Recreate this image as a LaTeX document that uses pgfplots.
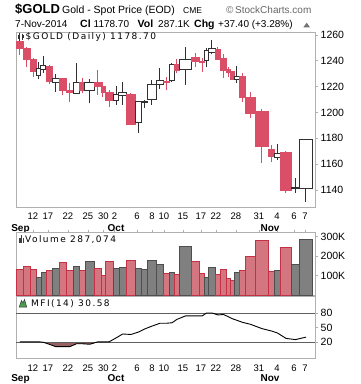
\documentclass[border=0pt]{standalone}
\usepackage{fontspec}
\setmainfont{Liberation Sans}
\newfontfamily\vfont[LetterSpace=16]{DejaVu Sans}
\usepackage{pgfplots}
\usepackage{pgfplotstable}
\pgfplotsset{compat=1.18}
\definecolor{cred}{RGB}{218,79,103}
\definecolor{vred}{RGB}{212,118,128}
\definecolor{vredline}{RGB}{196,48,68}
\definecolor{vgray}{RGB}{128,128,128}
\definecolor{vgrayline}{RGB}{78,78,78}
\definecolor{hollow}{RGB}{48,48,48}
\definecolor{frame}{RGB}{176,176,176}
\definecolor{mfifill}{RGB}{150,96,96}
\definecolor{lblgray}{RGB}{95,95,95}
\newcommand\fs[1]{\fontsize{#1}{#1}\selectfont}

% xl xr : bar extent (CandleVolume width), o h l c : price, v : volume (K), t : 0 down / 1 up
\pgfplotstableread{
xl xr o h l c v t
16.7 23.0 1254.8 1255.8 1244.5 1249.7 132 0
23.0 30.7 1249.7 1251.0 1235.5 1241.2 148 0
30.7 36.7 1241.2 1242.0 1227.7 1231.6 132 0
36.7 41.0 1228.5 1239.3 1226.0 1234.2 91 1
41.0 46.0 1233.4 1243.7 1230.4 1236.0 117 1
46.0 52.3 1236.0 1236.5 1222.0 1223.8 127 0
52.3 59.3 1223.4 1229.6 1216.1 1226.5 137 1
59.3 66.3 1226.0 1226.5 1213.5 1216.9 168 0
66.3 73.3 1216.9 1222.6 1208.4 1215.3 127 0
73.3 79.7 1214.9 1238.1 1214.5 1223.4 148 1
79.7 85.0 1223.4 1227.0 1214.9 1216.9 127 0
85.0 94.7 1216.9 1225.7 1207.1 1223.1 174 1
94.7 101.0 1223.1 1232.9 1213.5 1220.0 137 0
101.0 105.0 1220.0 1223.8 1212.2 1215.3 101 0
105.0 113.3 1215.9 1217.4 1204.5 1209.1 174 0
113.3 119.0 1209.1 1220.5 1205.8 1214.1 137 1
119.0 126.3 1213.3 1223.8 1205.8 1215.3 143 1
126.3 135.7 1214.3 1214.9 1190.3 1191.1 179 0
135.7 141.3 1192.4 1208.6 1183.9 1208.4 137 1
141.3 147.3 1208.0 1209.7 1203.3 1208.6 132 1
147.3 156.3 1210.2 1225.2 1205.8 1221.8 179 1
156.3 163.7 1221.3 1234.2 1218.0 1224.4 158 1
163.7 169.3 1224.4 1227.7 1217.4 1223.1 112 0
169.3 174.7 1224.6 1238.6 1223.8 1237.5 117 1
174.7 179.3 1237.5 1241.2 1230.4 1232.4 107 0
179.3 191.7 1233.4 1251.0 1221.3 1241.2 251 1
191.7 199.7 1242.7 1246.3 1235.5 1239.3 174 0
199.7 204.7 1239.9 1242.0 1231.6 1238.9 112 0
204.7 208.3 1239.9 1249.7 1235.5 1247.8 91 1
208.3 215.7 1246.6 1256.1 1245.3 1249.7 143 1
215.7 220.3 1249.2 1251.0 1240.6 1241.2 107 0
220.3 226.7 1242.0 1245.3 1226.5 1232.4 132 0
226.7 230.7 1233.4 1235.5 1227.7 1230.8 86 0
230.7 234.7 1231.6 1232.4 1225.0 1225.7 76 0
234.7 239.3 1225.7 1236.0 1222.6 1227.7 117 1
239.3 245.3 1228.3 1230.4 1208.4 1211.5 127 0
245.3 255.3 1211.8 1216.1 1195.5 1199.4 199 0
255.3 268.7 1200.6 1202.5 1160.7 1173.5 282 0
268.7 274.7 1171.5 1174.8 1161.4 1166.3 122 0
274.7 280.3 1165.3 1175.6 1163.2 1168.4 127 1
280.3 291.7 1168.9 1170.2 1137.5 1140.0 246 0
291.7 299.3 1141.0 1149.1 1137.5 1142.0 158 1
299.3 312.7 1141.3 1179.0 1131.0 1178.7 287 1
}\candles

\pgfplotstableread{
x m
19.85 21
26.85 21
33.7 21
38.85 21
43.5 20
49.15 16
55.8 11
62.8 11
69.8 11
76.5 17
82.35 17
89.85 16
97.85 21
103 21
109.15 21
116.15 29
122.65 37
131 36
138.5 41
144.3 47
151.8 53
160 59
166.5 59
172 60
177 67
185.5 74
195.7 74
202.2 74
206.5 80
212 80
218 76
223.5 77
228.7 72
232.7 68
237 65
242.3 61
250.3 57
262 48
271.7 43
277.5 39
286 28
295.5 25.5
306 30.58
}\mfi

\newcommand\getrow[1]{%
  \pgfplotstablegetelem{#1}{xl}\of\candles\let\cdXL\pgfplotsretval
  \pgfplotstablegetelem{#1}{xr}\of\candles\let\cdXR\pgfplotsretval
  \pgfplotstablegetelem{#1}{o}\of\candles\let\cdO\pgfplotsretval
  \pgfplotstablegetelem{#1}{h}\of\candles\let\cdH\pgfplotsretval
  \pgfplotstablegetelem{#1}{l}\of\candles\let\cdL\pgfplotsretval
  \pgfplotstablegetelem{#1}{c}\of\candles\let\cdC\pgfplotsretval
  \pgfplotstablegetelem{#1}{v}\of\candles\let\cdV\pgfplotsretval
  \pgfplotstablegetelem{#1}{t}\of\candles\let\cdT\pgfplotsretval
  \pgfmathsetmacro\cdXM{(\cdXL+\cdXR)/2}%
}

\pgfplotsset{
  panel/.style={scale only axis, width=299.5pt, xmin=16, xmax=315.5,
    axis line style={draw=frame, line width=0.9pt},
    tick align=outside, ytick pos=right, yticklabel pos=right,
    major tick length=3pt,
    ytick style={draw=frame, line width=0.8pt},
    yticklabel style={font=\fs{10.5}, inner sep=0pt, xshift=2pt, anchor=west},
    xticklabel style={font=\fs{9.5}, inner sep=0pt, anchor=north, yshift=-3pt},
    xtick={33,48,68,88,103.5,114.5,137,152,164,183,201,216,236,259,277,294,305},
  },
  wick0/.style={draw=cred, line width=1pt},
  wick1/.style={draw=hollow, line width=1pt},
  body0/.style={fill=cred, draw=cred, line width=0.8pt},
  body1/.style={fill=white, draw=hollow, line width=1pt},
  vbar0/.style={fill=vred, draw=vredline, line width=0.9pt},
  vbar1/.style={fill=vgray, draw=vgrayline, line width=0.9pt},
}

\begin{document}
\begin{tikzpicture}
\path[use as bounding box] (0,0) rectangle (360pt,-384pt);

% header
\node[anchor=base west, inner sep=0] at (15pt,-13.3pt) {\fs{13}\bfseries \$GOLD};
\node[anchor=base west, inner sep=0] at (62pt,-13.3pt) {\fs{10.5}Gold - Spot Price (EOD)};
\node[anchor=base west, inner sep=0] at (183pt,-13.3pt) {\fs{8.5}CME};
\node[anchor=base west, inner sep=0, text=black!60] at (226pt,-13.3pt) {\fs{10}\textcopyright\,StockCharts.com};
\node[anchor=base west, inner sep=0] at (15pt,-27.3pt) {\fs{10}7-Nov-2014};
\node[anchor=base west, inner sep=0] at (80pt,-27.3pt) {\fs{10.5}\bfseries Cl};
\node[anchor=base west, inner sep=0] at (93.5pt,-27.3pt) {\fs{10}1178.70};
\node[anchor=base west, inner sep=0] at (137.5pt,-27.3pt) {\fs{10.5}\bfseries Vol};
\node[anchor=base west, inner sep=0] at (158pt,-27.3pt) {\fs{10}287.1K};
\node[anchor=base west, inner sep=0] at (194pt,-27.3pt) {\fs{10.5}\bfseries Chg};
\node[anchor=base west, inner sep=0] at (218pt,-27.3pt) {\fs{10}+37.40 (+3.28\%)};
\fill[black!55] (303.3pt,-27.3pt) -- (310pt,-27.3pt) -- (306.7pt,-22.7pt) -- cycle;

% price panel
\begin{axis}[panel, at={(16pt,-32pt)}, anchor=north west, height=175pt,
  ymin=1126.8, ymax=1262.3,
  ytick={1140,1160,1180,1200,1220,1240,1260},
  yticklabels={1140,1160,1180,1200,1220,1240,1260},
  xtick pos=left, xtick style={draw=none},
  xticklabels={12,17,22,25,30,2,6,8,10,15,17,22,28,31,4,6,7},
  extra x ticks={20.5,116,270}, extra x tick labels={Sep,Oct,Nov},
  extra x tick style={xtick style={draw=none}, xticklabel style={font=\fs{10}\bfseries, yshift=-11.2pt}},
]
\pgfplotsforeachungrouped \i in {0,...,42}{%
  \getrow{\i}%
  \edef\temp{\noexpand\addplot[wick\cdT] coordinates {(\cdXM,\cdL) (\cdXM,\cdH)};%
    \noexpand\addplot[body\cdT] coordinates {(\cdXL,\cdO) (\cdXR,\cdO) (\cdXR,\cdC) (\cdXL,\cdC)} -- cycle;}%
  \temp
}
\end{axis}

% volume panel
\begin{axis}[panel, at={(16pt,-232.7pt)}, anchor=north west, height=62.3pt,
  ymin=0, ymax=321, ytick={100,200,300}, yticklabels={100K,200K,300K},
  xtick pos=right, xticklabels={}, xtick style={draw=frame, line width=0.8pt},
]
\pgfplotsforeachungrouped \i in {0,...,42}{%
  \getrow{\i}%
  \edef\temp{\noexpand\addplot[vbar\cdT] coordinates {(\cdXL,0) (\cdXR,0) (\cdXR,\cdV) (\cdXL,\cdV)} -- cycle;}%
  \temp
}
\end{axis}

% MFI panel
\begin{axis}[panel, at={(16pt,-296pt)}, anchor=north west, height=62.3pt,
  ymin=-12.8, ymax=114.8, ytick={20,50,80}, yticklabels={20,50,80},
  xtick pos=left, xtick style={draw=none},
  xticklabels={12,17,22,25,30,2,6,8,10,15,17,22,28,31,4,6,7},
  extra x ticks={20.5,116,270}, extra x tick labels={Sep,Oct,Nov},
  extra x tick style={xtick style={draw=none}, xticklabel style={font=\fs{10}\bfseries, yshift=-9.7pt}},
]
\addplot[fill=mfifill, draw=none] table[x=x, y expr={min(\thisrow{m},20)}] {\mfi} -- cycle;
\addplot[draw=lblgray, line width=0.9pt] coordinates {(16,20) (315.5,20)};
\addplot[draw=lblgray, line width=0.9pt] coordinates {(16,80) (315.5,80)};
\addplot[black, line width=0.9pt] table[x=x, y=m] {\mfi};
\end{axis}

% legends inside panels
\node[anchor=base west, inner sep=0] at (25.5pt,-39.5pt) {\vfont\fs{9}\$GOLD (Daily) 1178.70};
\draw[black!80, line width=0.6pt] (19pt,-33pt) -- (19pt,-40.5pt) (22.5pt,-33.5pt) -- (22.5pt,-40pt);
\fill[black!80] (18pt,-35pt) rectangle (20pt,-39pt);
\fill[black!80] (21.5pt,-34.5pt) rectangle (23.5pt,-38pt);

\node[anchor=base west, inner sep=0] at (25pt,-242.3pt) {\vfont\fs{9}Volume 287,074};
\fill[black!75] (19.3pt,-243pt) rectangle (20.6pt,-238pt);
\fill[black!75] (21pt,-243pt) rectangle (22.3pt,-235pt);
\fill[black!75] (22.7pt,-243pt) rectangle (24pt,-237.5pt);

\node[anchor=base west, inner sep=0] at (31pt,-306pt) {\vfont\fs{9}MFI(14) 30.58};
\filldraw[fill=green!45!black!70, draw=black!80, line width=0.5pt] (19.3pt,-307pt) -- (21.5pt,-300.5pt) -- (23pt,-303pt) -- (24.5pt,-299.5pt) -- (26.7pt,-307pt) -- cycle;
\end{tikzpicture}
\end{document}
